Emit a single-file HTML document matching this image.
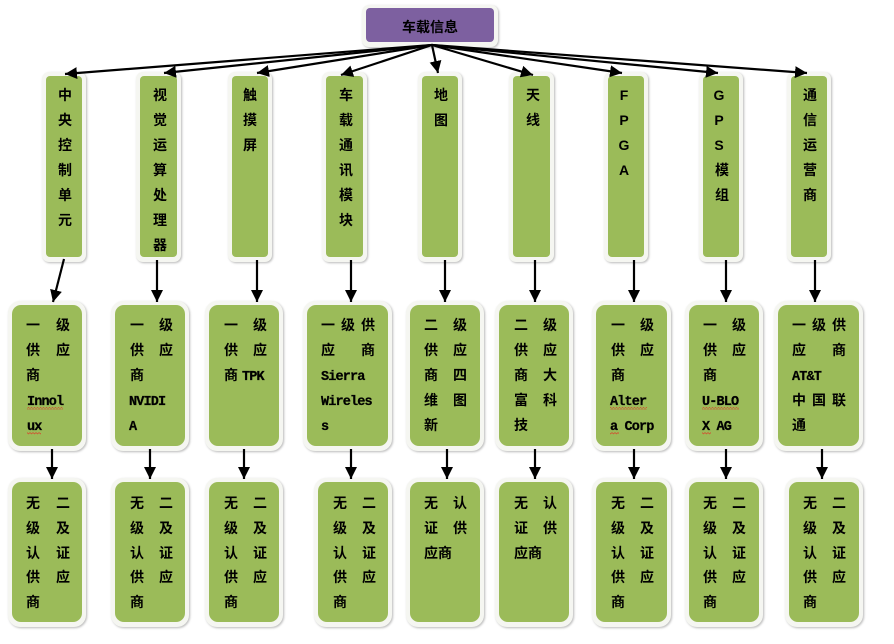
<!DOCTYPE html>
<html lang="zh">
<head>
<meta charset="utf-8">
<title>车载信息</title>
<style>
html,body{margin:0;padding:0;background:#fff;width:894px;height:644px;overflow:hidden}
svg{display:block}
.o{fill:#f5f6f1;filter:drop-shadow(1px 1.5px 1px #b9b9b9)}
.g{fill:#9bbb59}
text{font-family:"Liberation Sans","Noto Sans CJK SC",sans-serif;font-size:14px;font-weight:700;fill:#000;text-anchor:middle}
text.l{font-family:"Liberation Mono","Noto Sans CJK SC",monospace;font-size:13.5px;letter-spacing:-.85px;text-anchor:start;stroke:#000;stroke-width:.25}
.a{stroke:#000;stroke-width:2.2;fill:none;marker-end:url(#h)}
</style>
</head>
<body>
<svg width="894" height="644" viewBox="0 0 894 644" xmlns="http://www.w3.org/2000/svg">
<defs>
<marker id="h" markerUnits="userSpaceOnUse" markerWidth="13" markerHeight="12" refX="12" refY="6" orient="auto"><path d="M0 0L12 6L0 12Z" fill="#000"/></marker>
<pattern id="s" patternUnits="userSpaceOnUse" width="3" height="2.4"><path d="M0 .5L1.5 1.9L3 .5" fill="none" stroke="#d9402a" stroke-width=".7"/></pattern>
</defs>

<!-- top -->
<rect class="o" x="362" y="5" width="136" height="42" rx="7"/>
<rect x="366" y="8" width="128" height="34" rx="4" fill="#7d60a0"/>
<text x="409 423 437 451" y="32">车载信息</text>

<!-- row 1 -->
<rect class="o" x="42" y="72" width="44" height="190" rx="7"/><rect class="g" x="46" y="76" width="36" height="181" rx="4"/>
<rect class="o" x="136" y="72" width="45" height="190" rx="7"/><rect class="g" x="140" y="76" width="37" height="181" rx="4"/>
<rect class="o" x="228" y="72" width="44" height="190" rx="7"/><rect class="g" x="232" y="76" width="36" height="181" rx="4"/>
<rect class="o" x="322" y="72" width="45" height="190" rx="7"/><rect class="g" x="326" y="76" width="37" height="181" rx="4"/>
<rect class="o" x="418" y="72" width="44" height="190" rx="7"/><rect class="g" x="422" y="76" width="36" height="181" rx="4"/>
<rect class="o" x="509" y="72" width="45" height="190" rx="7"/><rect class="g" x="513" y="76" width="37" height="181" rx="4"/>
<rect class="o" x="604" y="72" width="44" height="190" rx="7"/><rect class="g" x="608" y="76" width="36" height="181" rx="4"/>
<rect class="o" x="699" y="72" width="44" height="190" rx="7"/><rect class="g" x="703" y="76" width="36" height="181" rx="4"/>
<rect class="o" x="787" y="72" width="44" height="190" rx="7"/><rect class="g" x="791" y="76" width="36" height="181" rx="4"/>

<!-- row 2 -->
<rect class="o" x="8" y="301" width="78" height="150" rx="12"/><rect class="g" x="12" y="305" width="70" height="141" rx="9"/>
<rect class="o" x="111" y="301" width="78" height="150" rx="12"/><rect class="g" x="115" y="305" width="70" height="141" rx="9"/>
<rect class="o" x="205" y="301" width="78" height="150" rx="12"/><rect class="g" x="209" y="305" width="70" height="141" rx="9"/>
<rect class="o" x="303" y="301" width="89" height="150" rx="12"/><rect class="g" x="307" y="305" width="81" height="141" rx="9"/>
<rect class="o" x="406" y="301" width="78" height="150" rx="12"/><rect class="g" x="410" y="305" width="70" height="141" rx="9"/>
<rect class="o" x="495" y="301" width="78" height="150" rx="12"/><rect class="g" x="499" y="305" width="70" height="141" rx="9"/>
<rect class="o" x="592" y="301" width="79" height="150" rx="12"/><rect class="g" x="596" y="305" width="71" height="141" rx="9"/>
<rect class="o" x="685" y="301" width="78" height="150" rx="12"/><rect class="g" x="689" y="305" width="70" height="141" rx="9"/>
<rect class="o" x="774" y="301" width="89" height="150" rx="12"/><rect class="g" x="778" y="305" width="81" height="141" rx="9"/>

<!-- row 3 -->
<rect class="o" x="8" y="478" width="78" height="149" rx="12"/><rect class="g" x="12" y="482" width="70" height="140" rx="9"/>
<rect class="o" x="111" y="478" width="78" height="149" rx="12"/><rect class="g" x="115" y="482" width="70" height="140" rx="9"/>
<rect class="o" x="205" y="478" width="78" height="149" rx="12"/><rect class="g" x="209" y="482" width="70" height="140" rx="9"/>
<rect class="o" x="314" y="478" width="78" height="149" rx="12"/><rect class="g" x="318" y="482" width="70" height="140" rx="9"/>
<rect class="o" x="406" y="478" width="78" height="149" rx="12"/><rect class="g" x="410" y="482" width="70" height="140" rx="9"/>
<rect class="o" x="495" y="478" width="78" height="149" rx="12"/><rect class="g" x="499" y="482" width="70" height="140" rx="9"/>
<rect class="o" x="592" y="478" width="79" height="149" rx="12"/><rect class="g" x="596" y="482" width="71" height="140" rx="9"/>
<rect class="o" x="685" y="478" width="78" height="149" rx="12"/><rect class="g" x="689" y="482" width="70" height="140" rx="9"/>
<rect class="o" x="785" y="478" width="78" height="149" rx="12"/><rect class="g" x="789" y="482" width="70" height="140" rx="9"/>

<!-- connectors -->
<line class="a" x1="432" y1="45" x2="65" y2="74"/>
<line class="a" x1="432" y1="45" x2="164" y2="73"/>
<line class="a" x1="432" y1="45" x2="257" y2="73"/>
<line class="a" x1="432" y1="45" x2="341" y2="75"/>
<line class="a" x1="432" y1="45" x2="438" y2="73"/>
<line class="a" x1="432" y1="45" x2="533" y2="75"/>
<line class="a" x1="432" y1="45" x2="622" y2="73"/>
<line class="a" x1="432" y1="45" x2="718" y2="73"/>
<line class="a" x1="432" y1="45" x2="807" y2="73"/>

<line class="a" x1="64" y1="259" x2="53" y2="302"/>
<line class="a" x1="157" y1="260" x2="157" y2="302"/>
<line class="a" x1="257" y1="260" x2="257" y2="302"/>
<line class="a" x1="351" y1="260" x2="351" y2="302"/>
<line class="a" x1="445" y1="260" x2="445" y2="302"/>
<line class="a" x1="535" y1="260" x2="535" y2="302"/>
<line class="a" x1="634" y1="260" x2="634" y2="302"/>
<line class="a" x1="726" y1="260" x2="726" y2="302"/>
<line class="a" x1="815" y1="260" x2="815" y2="302"/>

<line class="a" x1="52" y1="449" x2="52" y2="479"/>
<line class="a" x1="150" y1="449" x2="150" y2="479"/>
<line class="a" x1="244" y1="449" x2="244" y2="479"/>
<line class="a" x1="351" y1="449" x2="351" y2="479"/>
<line class="a" x1="447" y1="449" x2="447" y2="479"/>
<line class="a" x1="535" y1="449" x2="535" y2="479"/>
<line class="a" x1="634" y1="449" x2="634" y2="479"/>
<line class="a" x1="726" y1="449" x2="726" y2="479"/>
<line class="a" x1="822" y1="449" x2="822" y2="479"/>

<!-- row 1 text -->
<text x="65" y="100">中</text><text x="65" y="125">央</text><text x="65" y="150">控</text><text x="65" y="175">制</text><text x="65" y="200">单</text><text x="65" y="225">元</text>
<text x="160" y="100">视</text><text x="160" y="125">觉</text><text x="160" y="150">运</text><text x="160" y="175">算</text><text x="160" y="200">处</text><text x="160" y="225">理</text><text x="160" y="250">器</text>
<text x="250" y="100">触</text><text x="250" y="125">摸</text><text x="250" y="150">屏</text>
<text x="346" y="100">车</text><text x="346" y="125">载</text><text x="346" y="150">通</text><text x="346" y="175">讯</text><text x="346" y="200">模</text><text x="346" y="225">块</text>
<text x="441" y="100">地</text><text x="441" y="125">图</text>
<text x="533" y="100">天</text><text x="533" y="125">线</text>
<text x="624" y="100">F</text><text x="624" y="125">P</text><text x="624" y="150">G</text><text x="624" y="175">A</text>
<text x="719" y="100">G</text><text x="719" y="125">P</text><text x="719" y="150">S</text><text x="722" y="175">模</text><text x="722" y="200">组</text>
<text x="810" y="100">通</text><text x="810" y="125">信</text><text x="810" y="150">运</text><text x="810" y="175">营</text><text x="810" y="200">商</text>

<!-- row 2 text -->
<text x="33 63" y="330">一级</text><text x="33 63" y="355">供应</text><text x="33" y="380">商</text>
<text class="l" x="27" y="405">Innol</text><text class="l" x="27" y="430">ux</text>
<rect x="27" y="407" width="36" height="2.4" fill="url(#s)"/><rect x="27" y="432" width="14" height="2.4" fill="url(#s)"/>

<text x="137 166" y="330">一级</text><text x="137 166" y="355">供应</text><text x="137" y="380">商</text>
<text class="l" x="129" y="405">NVIDI</text><text class="l" x="129" y="430">A</text>

<text x="231 260" y="330">一级</text><text x="231 260" y="355">供应</text><text x="231" y="380">商</text>
<text class="l" x="242" y="380">TPK</text>

<text x="328 348 368" y="330">一级供</text><text x="328 368" y="355">应商</text>
<text class="l" x="321" y="380">Sierra</text><text class="l" x="321" y="405">Wireles</text><text class="l" x="321" y="430">s</text>

<text x="431 460" y="330">二级</text><text x="431 460" y="355">供应</text><text x="431 460" y="380">商四</text><text x="431 460" y="405">维图</text><text x="431" y="430">新</text>

<text x="521 550" y="330">二级</text><text x="521 550" y="355">供应</text><text x="521 550" y="380">商大</text><text x="521 550" y="405">富科</text><text x="521" y="430">技</text>

<text x="618 647" y="330">一级</text><text x="618 647" y="355">供应</text><text x="618" y="380">商</text>
<text class="l" x="610" y="405">Alter</text><text class="l" x="610" y="430">a Corp</text>
<rect x="610" y="407" width="37" height="2.4" fill="url(#s)"/><rect x="610" y="432" width="9" height="2.4" fill="url(#s)"/>

<text x="710 739" y="330">一级</text><text x="710 739" y="355">供应</text><text x="710" y="380">商</text>
<text class="l" x="702" y="405">U-BLO</text><text class="l" x="702" y="430">X AG</text>
<rect x="702" y="407" width="37" height="2.4" fill="url(#s)"/><rect x="702" y="432" width="9" height="2.4" fill="url(#s)"/>

<text x="799 819 839" y="330">一级供</text><text x="799 839" y="355">应商</text>
<text class="l" x="792" y="380">AT&amp;T</text>
<text x="799 819 839" y="405">中国联</text><text x="799" y="430">通</text>

<!-- row 3 text -->
<text x="33 63" y="508">无二</text><text x="33 63" y="533">级及</text><text x="33 63" y="558">认证</text><text x="33 63" y="582">供应</text><text x="33" y="607">商</text>
<text x="137 166" y="508">无二</text><text x="137 166" y="533">级及</text><text x="137 166" y="558">认证</text><text x="137 166" y="582">供应</text><text x="137" y="607">商</text>
<text x="231 260" y="508">无二</text><text x="231 260" y="533">级及</text><text x="231 260" y="558">认证</text><text x="231 260" y="582">供应</text><text x="231" y="607">商</text>
<text x="340 369" y="508">无二</text><text x="340 369" y="533">级及</text><text x="340 369" y="558">认证</text><text x="340 369" y="582">供应</text><text x="340" y="607">商</text>
<text x="431 460" y="508">无认</text><text x="431 460" y="533">证供</text><text x="431 445" y="558">应商</text>
<text x="521 550" y="508">无认</text><text x="521 550" y="533">证供</text><text x="521 535" y="558">应商</text>
<text x="618 647" y="508">无二</text><text x="618 647" y="533">级及</text><text x="618 647" y="558">认证</text><text x="618 647" y="582">供应</text><text x="618" y="607">商</text>
<text x="710 739" y="508">无二</text><text x="710 739" y="533">级及</text><text x="710 739" y="558">认证</text><text x="710 739" y="582">供应</text><text x="710" y="607">商</text>
<text x="810 839" y="508">无二</text><text x="810 839" y="533">级及</text><text x="810 839" y="558">认证</text><text x="810 839" y="582">供应</text><text x="810" y="607">商</text>
</svg>
</body>
</html>
